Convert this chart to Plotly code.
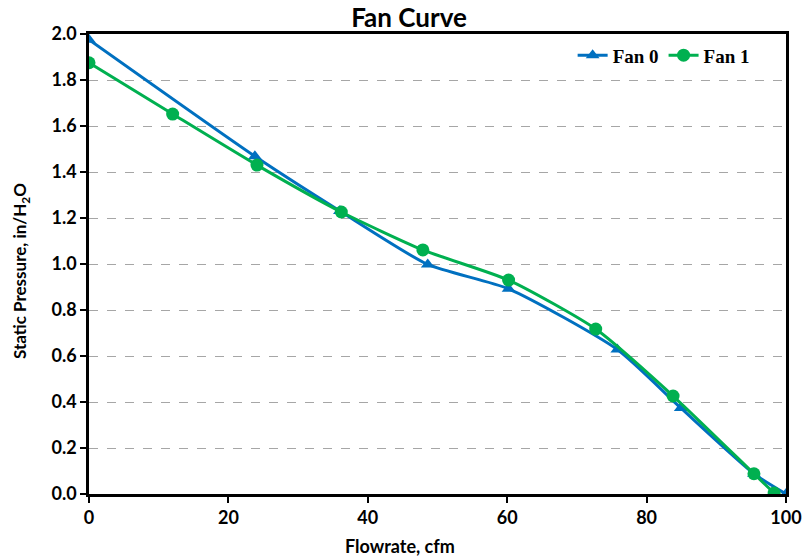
import plotly.graph_objects as go

fan0_x = [0, 23.8, 36.0, 48.6, 60.2, 75.8, 84.9, 95.4, 100]
fan0_y = [1.975, 1.468, 1.23, 0.998, 0.892, 0.628, 0.374, 0.088, 0.0]
fan1_x = [0, 12.0, 24.1, 36.2, 47.9, 60.2, 72.7, 83.8, 95.4, 98.3]
fan1_y = [1.875, 1.652, 1.43, 1.226, 1.061, 0.93, 0.717, 0.426, 0.088, 0.004]
x_ticks = [0, 20, 40, 60, 80, 100]
y_ticks = [0.0, 0.2, 0.4, 0.6, 0.8, 1.0, 1.2, 1.4, 1.6, 1.8, 2.0]

blue = "#0070C0"
green = "#00B050"

fig = go.Figure()
fig.add_trace(go.Scatter(x=fan0_x, y=fan0_y, name="<b>Fan 0</b>", mode="lines+markers",
                         line=dict(color=blue, width=3, shape="spline", smoothing=0.6),
                         marker=dict(symbol="triangle-up", size=12, color=blue)))
fig.add_trace(go.Scatter(x=fan1_x, y=fan1_y, name="<b>Fan 1</b>", mode="lines+markers",
                         line=dict(color=green, width=3, shape="spline", smoothing=0.6),
                         marker=dict(symbol="circle", size=13, color=green)))

fig.update_layout(
    width=803, height=558,
    paper_bgcolor="white", plot_bgcolor="white",
    margin=dict(l=89, r=17, t=34, b=64, autoexpand=False),
    title=dict(text="<b>Fan Curve</b>", xref="container", yref="container",
               x=409 / 803, xanchor="center", y=1 - 18 / 558, yanchor="middle",
               font=dict(family="Lato", size=26, color="black")),
    legend=dict(orientation="h", x=0.955, xanchor="right", y=0.995, yanchor="top",
                font=dict(family="Liberation Serif", size=19, color="black"),
                bgcolor="rgba(0,0,0,0)", tracegroupgap=0),
    font=dict(family="Lato", color="black"),
    annotations=[
        dict(text="<b>Flowrate, cfm</b>", xref="paper", yref="paper",
             x=(400 - 89) / 697, y=-(546 - 494) / 460, xanchor="center", yanchor="middle",
             showarrow=False, font=dict(family="Lato", size=18, color="black")),
        dict(text="<b>Static Pressure, in/H<sub>2</sub>O</b>", xref="paper", yref="paper",
             x=-(89 - 21) / 697, y=(494 - 271) / 460, xanchor="center", yanchor="middle",
             textangle=-90, showarrow=False, font=dict(family="Lato", size=17, color="black")),
    ],
)
fig.update_xaxes(range=[0, 100], tickvals=x_ticks,
                 ticktext=["<b>%d</b>" % v for v in x_ticks], automargin=False,
                 showline=True, linecolor="black", linewidth=2.5, mirror=True,
                 ticks="outside", ticklen=6, tickwidth=2, tickcolor="black",
                 showgrid=False, zeroline=False,
                 tickfont=dict(family="Lato", size=18, color="black"))
fig.update_yaxes(range=[0, 2.0], tickvals=y_ticks, ticktext=["<b>%.1f</b>" % v for v in y_ticks],
                 automargin=False,
                 showline=True, linecolor="black", linewidth=2.5, mirror=True,
                 ticks="outside", ticklen=6, tickwidth=2, tickcolor="black",
                 showgrid=True, gridcolor="#A6A6A6", griddash="dash", gridwidth=1,
                 zeroline=False,
                 tickfont=dict(family="Lato", size=18, color="black"))

fig.write_html("out.html")
